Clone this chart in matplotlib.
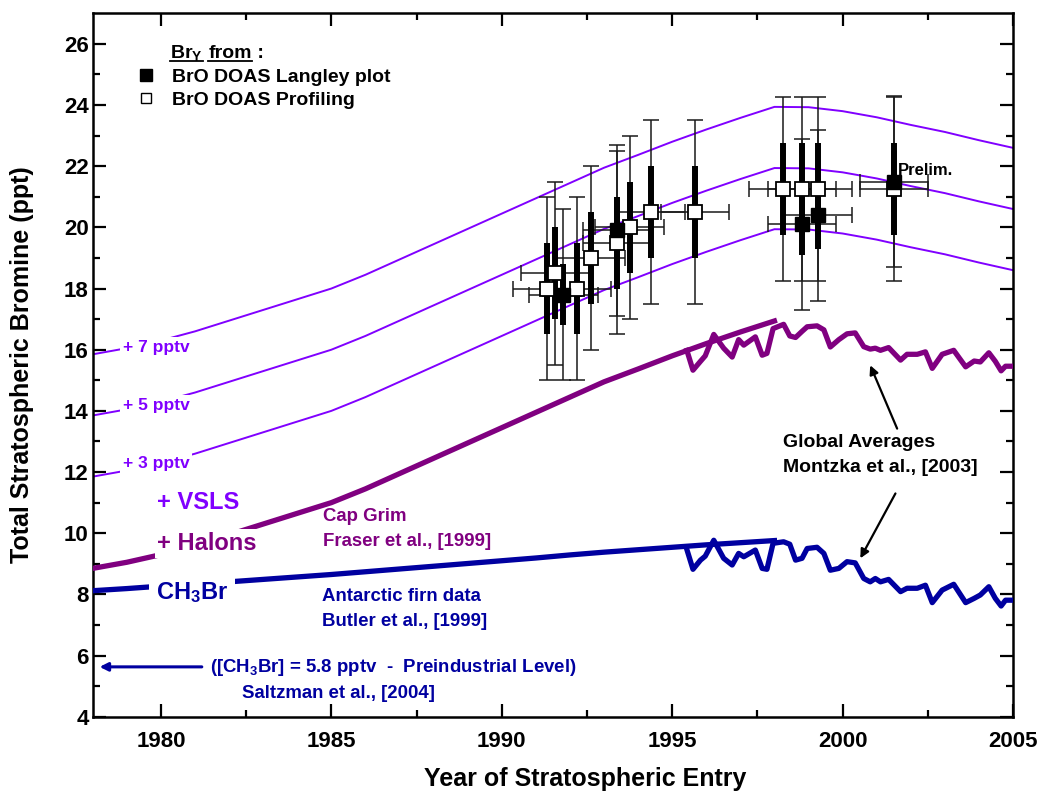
import matplotlib
matplotlib.use('Agg')
import matplotlib.pyplot as plt
from matplotlib.lines import Line2D
from matplotlib.transforms import IdentityTransform

plt.rcParams['font.family'] = ['Liberation Sans', 'DejaVu Sans']
plt.rcParams['font.weight'] = 'bold'
plt.rcParams['mathtext.fontset'] = 'custom'
plt.rcParams['mathtext.rm'] = 'Liberation Sans:bold'
plt.rcParams['mathtext.it'] = 'Liberation Sans:bold'
plt.rcParams['mathtext.bf'] = 'Liberation Sans:bold'
plt.rcParams['mathtext.default'] = 'rm'

VIOLET = '#8000ff'
PURPLE = '#800080'
NAVY = '#0000a0'

# ---- data ----
years_smooth = list(range(1978, 1999))
halons = [8.85, 9.05, 9.30, 9.60, 9.95, 10.30, 10.65, 11.00, 11.45, 11.95, 12.45,
          12.95, 13.45, 13.95, 14.45, 14.95, 15.37, 15.80, 16.20, 16.58, 16.94]
ch3br = [8.12, 8.19, 8.27, 8.34, 8.41, 8.49, 8.57, 8.65, 8.74, 8.83, 8.92,
         9.01, 9.10, 9.19, 9.29, 9.38, 9.46, 9.54, 9.62, 9.69, 9.76]

years_vsls = list(range(1978, 2006))
vsls_base = [8.85, 9.05, 9.30, 9.60, 9.95, 10.30, 10.65, 11.00, 11.45, 11.95, 12.45,
             12.95, 13.45, 13.95, 14.45, 14.95, 15.37, 15.80, 16.20, 16.58, 16.94,
             16.93, 16.80, 16.60, 16.35, 16.12, 15.85, 15.60]
vsls_offsets = [3, 5, 7]
vsls_labels = ['+ 3 pptv', '+ 5 pptv', '+ 7 pptv']

ga_years = [1995.43, 1995.61, 1995.83, 1995.97, 1996.22, 1996.51, 1996.76, 1996.95,
            1997.10, 1997.44, 1997.64, 1997.78, 1997.96, 1998.27, 1998.45, 1998.62,
            1998.81, 1998.96, 1999.25, 1999.45, 1999.64, 1999.89, 2000.13, 2000.37,
            2000.62, 2000.81, 2000.96, 2001.11, 2001.35, 2001.70, 2001.89, 2002.19,
            2002.43, 2002.63, 2002.92, 2003.26, 2003.61, 2003.86, 2004.04, 2004.29,
            2004.48, 2004.65, 2004.78, 2005.07]
ga_total = [15.98, 15.33, 15.62, 15.80, 16.50, 16.05, 15.76, 16.33, 16.15, 16.42,
            15.82, 15.88, 16.69, 16.83, 16.45, 16.40, 16.60, 16.75, 16.78, 16.65,
            16.09, 16.33, 16.52, 16.55, 16.10, 16.02, 16.05, 15.98, 16.07, 15.66,
            15.85, 15.85, 15.93, 15.39, 15.85, 15.98, 15.44, 15.63, 15.60, 15.90,
            15.62, 15.31, 15.46, 15.46]
ga_ch3br = [9.47, 8.82, 9.12, 9.25, 9.77, 9.18, 8.96, 9.34, 9.23, 9.45, 8.85, 8.82,
            9.67, 9.72, 9.64, 9.12, 9.18, 9.50, 9.54, 9.34, 8.79, 8.85, 9.07, 9.03,
            8.52, 8.41, 8.52, 8.41, 8.49, 8.09, 8.20, 8.20, 8.30, 7.73, 8.14, 8.33,
            7.73, 7.87, 7.98, 8.25, 7.87, 7.62, 7.81, 7.81]

# BrO DOAS profiling (open squares)
prof_years = [1991.32, 1991.57, 1992.20, 1992.62, 1993.38, 1993.75, 1994.38, 1995.66,
              1998.25, 1998.81, 1999.27, 2001.50]
prof_vals = [18.0, 18.5, 18.0, 19.0, 19.5, 20.0, 20.5, 20.5, 21.25, 21.25, 21.25, 21.25]
prof_xerr = [1.0] * 12
prof_err_out = [3.0] * 12
prof_err_in = [1.5] * 12

# BrO DOAS Langley plot (filled squares)
lang_years = [1991.81, 1993.38, 1998.81, 1999.27, 2001.50]
lang_vals = [17.8, 19.9, 20.1, 20.4, 21.5]
lang_xerr = [1.0] * 5
lang_err_out = [2.8] * 5
lang_err_in = [1.0, 1.0, 1.0, 1.1, 1.0]

fig = plt.figure(figsize=(10.42, 7.96), dpi=100)
ax = fig.add_axes([0.089, 0.0996, 0.8832, 0.8837])

for off in vsls_offsets:
    ax.plot(years_vsls, [v + off for v in vsls_base], color=VIOLET, lw=1.4, zorder=2)
ax.plot(years_smooth, halons, color=PURPLE, lw=3.8, zorder=3)
ax.plot(ga_years, ga_total, color=PURPLE, lw=3.8, zorder=3)
ax.plot(years_smooth, ch3br, color=NAVY, lw=3.8, zorder=3)
ax.plot(ga_years, ga_ch3br, color=NAVY, lw=3.8, zorder=3)

# error bars: thin outer with caps, thick inner
for yr, vals, xe, eo, ei in [(prof_years, prof_vals, prof_xerr, prof_err_out, prof_err_in),
                             (lang_years, lang_vals, lang_xerr, lang_err_out, lang_err_in)]:
    ax.errorbar(yr, vals, xerr=xe, yerr=eo, fmt='none', ecolor='#1a1a1a',
                elinewidth=1.1, capsize=6, capthick=1.1, zorder=4)
    ax.errorbar(yr, vals, yerr=ei, fmt='none', ecolor='black', elinewidth=4.3,
                capsize=0, zorder=5)
ax.plot(prof_years, prof_vals, ls='', marker='s', ms=10.5, mfc='white', mec='black',
        mew=1.3, zorder=6)
ax.plot(lang_years, lang_vals, ls='', marker='s', ms=10.5, mfc='black', mec='black',
        zorder=7)

# axes
ax.set_xlim(1978, 2005)
ax.set_ylim(4, 27)
ax.set_xticks([1980, 1985, 1990, 1995, 2000, 2005])
ax.set_xticks([1982.5, 1987.5, 1992.5, 1997.5, 2002.5], minor=True)
ax.set_yticks(range(4, 27, 2))
ax.set_yticks(range(5, 27, 2), minor=True)
ax.tick_params(which='both', direction='in', top=True, right=True, width=1.6,
               labelsize=16)
ax.tick_params(which='major', length=9.5)
ax.tick_params(which='minor', length=5)
ax.tick_params(axis='x', pad=10)
ax.tick_params(axis='y', pad=3)
for s in ax.spines.values():
    s.set_linewidth(1.8)

fig.text(22 / 1042, 1 - 365 / 796, 'Total Stratospheric Bromine (ppt)', rotation=90,
         ha='center', va='center', fontsize=18)
fig.text(585 / 1042, 1 - 779 / 796, 'Year of Stratospheric Entry', ha='center',
         va='center', fontsize=18)

# annotations
wbox = dict(facecolor='white', edgecolor='none', pad=2)
for lab, ylab in zip(vsls_labels, [12.29, 14.18, 16.08]):
    ax.text(1978.89, ylab, lab, color=VIOLET, fontsize=12.5, va='center', bbox=wbox, zorder=3.5)
ax.text(1979.9, 11.01, '+ VSLS', color=VIOLET, fontsize=17, va='center')
ax.text(1979.9, 9.67, '+ Halons', color=PURPLE, fontsize=17, va='center', bbox=wbox, zorder=3.5)
ax.text(1979.85, 8.07, r'CH$_3$Br', color=NAVY, fontsize=17, va='center',
        bbox=dict(facecolor='white', edgecolor='none', pad=5), zorder=3.5)
ax.text(1984.77, 10.56, 'Cap Grim', color=PURPLE, fontsize=13.4, va='center')
ax.text(1984.77, 9.74, 'Fraser et al., [1999]', color=PURPLE, fontsize=13.4, va='center')
ax.text(1984.74, 7.94, 'Antarctic firn data', color=NAVY, fontsize=13.4, va='center')
ax.text(1984.74, 7.12, 'Butler et al., [1999]', color=NAVY, fontsize=13.4, va='center')
ax.text(1981.45, 5.62, r'([CH$_3$Br] = 5.8 pptv  -  Preindustrial Level)', color=NAVY,
        fontsize=13.4, va='center')
ax.text(1982.38, 4.77, 'Saltzman et al., [2004]', color=NAVY, fontsize=13.4, va='center')
ax.annotate('', xy=(1978.2, 5.63), xytext=(1981.2, 5.63),
            arrowprops=dict(arrowstyle='-|>', color=NAVY, lw=2.2, mutation_scale=12,
                            shrinkA=0, shrinkB=0))
ax.text(1998.25, 12.98, 'Global Averages', fontsize=14, va='center')
ax.text(1998.25, 12.16, 'Montzka et al., [2003]', fontsize=14, va='center')
for head, tail in [((2000.81, 15.49), (2001.6, 13.42)), ((2000.52, 9.18), (2001.55, 11.30))]:
    ax.annotate('', xy=head, xytext=tail,
                arrowprops=dict(arrowstyle='-|>', color='black', lw=1.6, mutation_scale=13,
                                shrinkA=0, shrinkB=0))
ax.text(2001.62, 21.86, 'Prelim.', fontsize=12, va='center', zorder=8)

# legend
handles = [Line2D([], [], ls='', marker='s', ms=8, mfc='black', mec='black'),
           Line2D([], [], ls='', marker='s', ms=7, mfc='white', mec='black', mew=1)]
ax.legend(handles, ['BrO DOAS Langley plot', 'BrO DOAS Profiling'], loc='upper left',
          bbox_to_anchor=(0.047, 0.922), frameon=False, fontsize=14, handlelength=1.0,
          handletextpad=0.85, labelspacing=0.3, borderaxespad=0, borderpad=0)

# legend heading with underlines
fig.canvas.draw()
r = fig.canvas.get_renderer()
bx, by = ax.transAxes.transform((0.0843, 0.937))
parts = [(r'Br$_\mathrm{Y}$', True), (' ', False), ('from', True), (' :', False)]
for txt, ul in parts:
    t = ax.text(bx, by, txt, transform=IdentityTransform(), fontsize=14, va='baseline')
    bb = t.get_window_extent(r)
    if ul:
        fig.add_artist(Line2D([bb.x0, bb.x1], [by - 3, by - 3], color='black', lw=1.3,
                              transform=IdentityTransform()))
    bx = bb.x1

fig.savefig('out.png', dpi=100)
